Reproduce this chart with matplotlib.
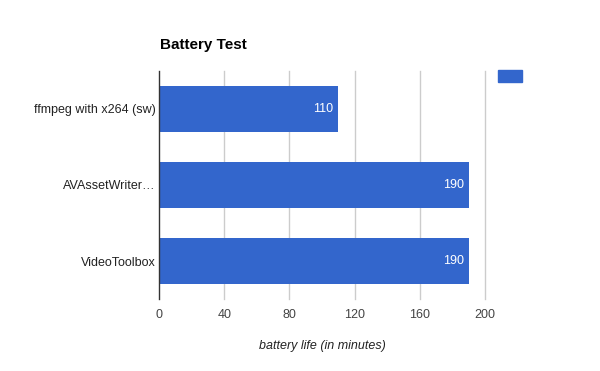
import matplotlib
matplotlib.use("Agg")
import matplotlib.pyplot as plt
from matplotlib.patches import Rectangle

categories = ["ffmpeg with x264 (sw)", "AVAssetWriter…", "VideoToolbox"]
values = [110, 190, 190]
xticks = [0, 40, 80, 120, 160, 200]

BLUE = "#3366CC"
plt.rcParams['font.family'] = ['Liberation Sans', 'DejaVu Sans']

fig = plt.figure(figsize=(6, 3.71), dpi=100)
ax = fig.add_axes([159/600, 1-299/371, 326/600, 228/371])

y = list(range(len(categories)))
ax.barh(y, values, height=0.615, color=BLUE, zorder=3)
ax.set_ylim(len(categories)-0.5, -0.5)
ax.set_xlim(0, 200)
ax.set_xticks(xticks)
ax.set_xticklabels([str(t) for t in xticks], fontsize=9, color="#444444")
ax.set_yticks(y)
ax.set_yticklabels(categories, fontsize=9, color="#222222")
ax.tick_params(axis='x', length=0, pad=7)
ax.tick_params(axis='y', length=0, pad=2.5)
for t in xticks[1:]:
    ax.axvline(t, color="#cccccc", lw=1, zorder=1, clip_on=False)
ax.axvline(0, color="#333333", lw=1, zorder=4, clip_on=False)
for s in ax.spines.values():
    s.set_visible(False)

for yi, v in zip(y, values):
    ax.text(v - 3, yi, str(v), color="white", ha="right", va="center", fontsize=9, zorder=5)

ax.set_xlabel("battery life (in minutes)", fontsize=9, style="italic", color="#222222", labelpad=14)
fig.text(160/600, 1-45.5/371, "Battery Test", fontsize=11, fontweight="bold", color="black", va="center", ha="left")

fig.patches.append(Rectangle((498/600, 1-82/371), 24/600, 12/371, transform=fig.transFigure, color=BLUE))

fig.savefig("out.png", dpi=100)
